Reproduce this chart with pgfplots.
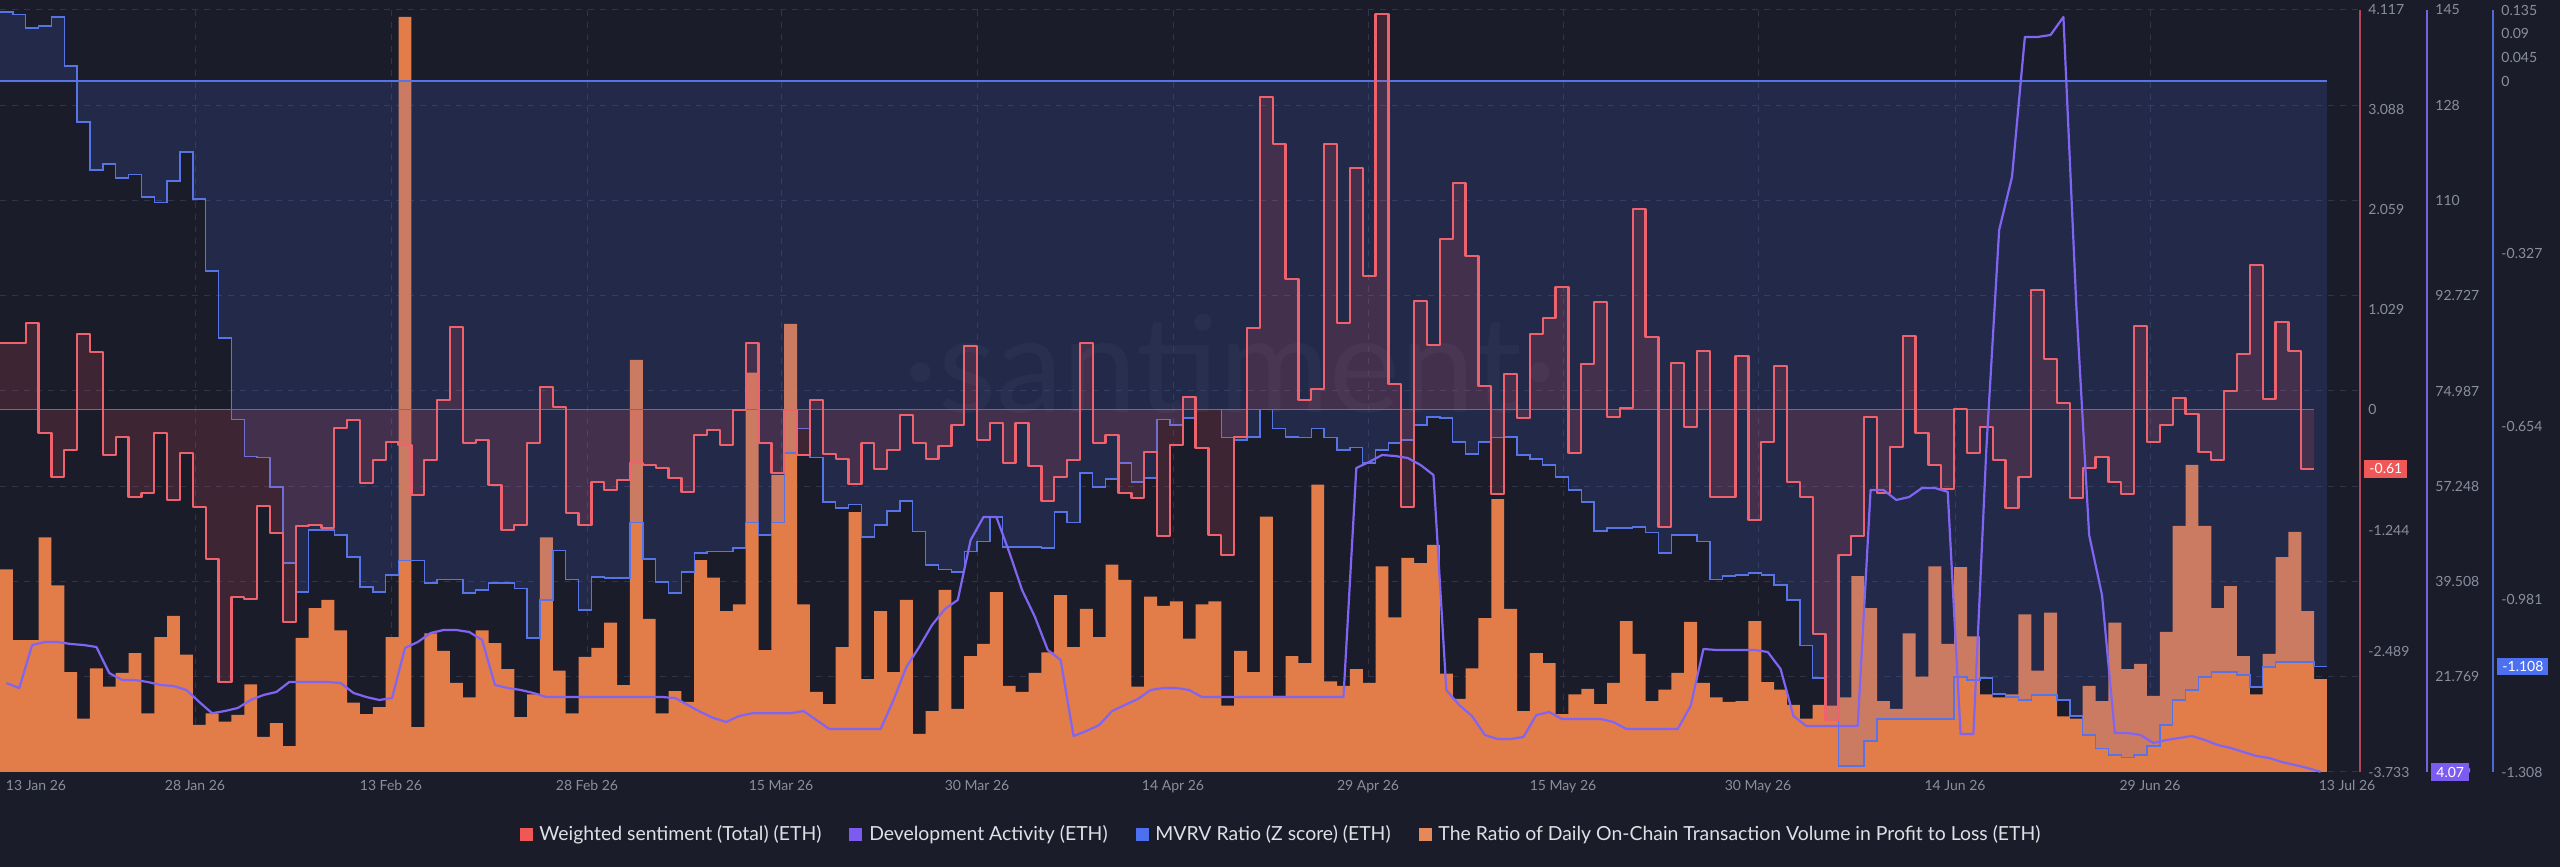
\documentclass[border=0pt]{standalone}
\usepackage{fontspec}
\setmainfont{Lato}
\usepackage{pgfplots}
\usepackage{pgfplotstable}
\pgfplotsset{compat=1.18}

\definecolor{bg}{RGB}{27,28,42}
\definecolor{gridc}{RGB}{48,52,72}
\definecolor{tickc}{RGB}{138,142,158}
\definecolor{legc}{RGB}{222,224,230}
\definecolor{barc}{RGB}{226,124,72}
\definecolor{mvrvc}{RGB}{86,116,230}
\definecolor{mvrvfill}{RGB}{80,120,255}
\definecolor{sentc}{RGB}{238,98,110}
\definecolor{sentfill}{RGB}{240,90,100}
\definecolor{devc}{RGB}{128,100,242}
\definecolor{redaxis}{RGB}{176,72,88}
\definecolor{purpaxis}{RGB}{118,98,222}
\definecolor{blueaxis}{RGB}{78,106,214}
\definecolor{redbox}{RGB}{240,88,88}
\definecolor{purpbox}{RGB}{124,92,240}
\definecolor{bluebox}{RGB}{76,112,240}

% Ratio of daily on-chain transaction volume in profit to loss (hidden scale)
\pgfplotstableread{
j v
0 2.66
1 1.73
2 1.73
3 3.08
4 2.45
5 1.31
6 0.70
7 1.36
8 1.12
9 1.30
10 1.56
11 0.77
12 1.77
13 2.05
14 1.54
15 0.62
16 0.77
17 0.66
18 0.75
19 1.15
20 0.46
21 0.64
22 0.34
23 1.76
24 2.15
25 2.26
26 1.86
27 0.91
28 0.76
29 0.85
30 1.77
31 9.91
32 0.59
33 1.82
34 1.59
35 1.17
36 0.98
37 1.86
38 1.69
39 1.35
40 0.72
41 1.02
42 3.08
43 1.33
44 0.77
45 1.51
46 1.63
47 1.96
48 1.14
49 5.41
50 2.01
51 0.77
52 1.06
53 0.92
54 2.78
55 2.55
56 2.11
57 2.20
58 5.24
59 1.60
60 3.90
61 5.88
62 2.20
63 1.05
64 0.89
65 1.64
66 3.41
67 1.22
68 2.11
69 1.31
70 2.26
71 0.50
72 0.80
73 2.39
74 0.83
75 1.52
76 1.68
77 2.36
78 1.13
79 1.05
80 1.30
81 1.57
82 2.32
83 1.64
84 2.14
85 1.77
86 2.72
87 2.52
88 1.12
89 2.30
90 2.18
91 2.24
92 1.75
93 2.20
94 2.24
95 0.87
96 1.59
97 1.31
98 3.35
99 1.00
100 1.52
101 1.43
102 3.77
103 1.19
104 1.13
105 1.35
106 1.17
107 2.70
108 2.03
109 2.81
110 2.74
111 2.98
112 1.29
113 0.96
114 1.36
115 2.02
116 3.58
117 2.14
118 0.80
119 1.56
120 1.43
121 0.76
122 1.02
123 1.09
124 0.89
125 1.17
126 1.98
127 1.55
128 0.93
129 1.08
130 1.30
131 1.97
132 1.17
133 0.98
134 0.92
135 0.93
136 1.98
137 1.18
138 1.08
139 0.88
140 0.70
141 0.88
142 0.87
143 0.98
144 2.57
145 2.15
146 0.93
147 0.83
148 1.82
149 1.25
150 2.70
151 1.68
152 2.69
153 1.78
154 1.02
155 0.98
156 1.02
157 2.07
158 1.33
159 2.09
160 0.73
161 0.70
162 1.13
163 0.93
164 1.96
165 1.35
166 1.42
167 1.00
168 1.84
169 3.23
170 4.03
171 3.23
172 2.15
173 2.44
174 1.52
175 1.02
176 1.55
177 2.82
178 3.15
179 2.11
180 1.22
}\ratio

% Weighted sentiment (Total)
\pgfplotstableread{
j v
0 0.686
1 0.686
2 0.892
3 -0.241
4 -0.694
5 -0.416
6 0.779
7 0.593
8 -0.468
9 -0.282
10 -0.900
11 -0.859
12 -0.241
13 -0.933
14 -0.447
15 -1.003
16 -1.539
17 -2.806
18 -1.931
19 -1.951
20 -0.993
21 -1.271
22 -2.188
23 -1.199
24 -1.189
25 -1.220
26 -0.190
27 -0.107
28 -0.756
29 -0.519
30 -0.334
31 -0.365
32 -0.880
33 -0.519
34 0.099
35 0.851
36 -0.344
37 -0.313
38 -0.777
39 -1.240
40 -1.189
41 -0.344
42 0.233
43 0.027
44 -1.065
45 -1.189
46 -0.746
47 -0.828
48 -0.725
49 -0.550
50 -0.571
51 -0.602
52 -0.705
53 -0.849
54 -0.262
55 -0.210
56 -0.365
57 -0.004
58 0.686
59 -0.344
60 -0.653
61 -0.004
62 -0.470
63 0.099
64 -0.457
65 -0.509
66 -0.766
67 -0.344
68 -0.612
69 -0.416
70 -0.056
71 -0.344
72 -0.509
73 -0.375
74 -0.159
75 0.655
76 -0.313
77 -0.138
78 -0.550
79 -0.138
80 -0.581
81 -0.942
82 -0.694
83 -0.519
84 0.686
85 -0.344
86 -0.262
87 -0.859
88 -0.911
89 -0.437
90 -1.302
91 -0.365
92 0.130
93 -0.396
94 -1.292
95 -1.498
96 -0.282
97 0.840
98 3.220
99 2.736
100 1.345
101 0.099
102 0.212
103 2.736
104 0.892
105 2.489
106 1.376
107 4.075
108 0.264
109 -1.003
110 1.118
111 0.665
112 1.757
113 2.334
114 1.582
115 0.243
116 -0.869
117 0.367
118 -0.087
119 0.779
120 0.944
121 1.262
122 -0.447
123 0.470
124 1.108
125 -0.076
126 0.016
127 2.066
128 0.748
129 -1.209
130 0.480
131 -0.179
132 0.604
133 -0.900
134 -0.900
135 0.552
136 -1.137
137 -0.334
138 0.449
139 -0.746
140 -0.900
141 -2.312
142 -3.198
143 -1.498
144 -1.302
145 -0.076
146 -0.859
147 -0.385
148 0.758
149 -0.241
150 -0.571
151 -0.818
152 0.006
153 -0.447
154 -0.179
155 -0.519
156 -1.014
157 -0.694
158 1.232
159 0.521
160 0.068
161 -0.911
162 -0.602
163 -0.488
164 -0.746
165 -0.869
166 0.861
167 -0.334
168 -0.159
169 0.120
170 -0.045
171 -0.437
172 -0.519
173 0.192
174 0.573
175 1.490
176 0.109
177 0.900
178 0.604
179 -0.612
180 -0.612
}\sent

% MVRV Ratio (Z score)
\pgfplotstableread{
j v
0 0.131
1 0.126
2 0.101
3 0.105
4 0.122
5 0.029
6 -0.077
7 -0.168
8 -0.157
9 -0.183
10 -0.177
11 -0.219
12 -0.230
13 -0.189
14 -0.134
15 -0.223
16 -0.359
17 -0.486
18 -0.641
19 -0.710
20 -0.713
21 -0.768
22 -0.912
23 -0.967
24 -0.850
25 -0.850
26 -0.859
27 -0.901
28 -0.958
29 -0.967
30 -0.935
31 -0.907
32 -0.907
33 -0.950
34 -0.944
35 -0.944
36 -0.969
37 -0.963
38 -0.950
39 -0.950
40 -0.960
41 -1.054
42 -0.982
43 -0.888
44 -0.944
45 -1.001
46 -0.939
47 -0.941
48 -0.941
49 -0.836
50 -0.905
51 -0.948
52 -0.969
53 -0.929
54 -0.893
55 -0.891
56 -0.891
57 -0.884
58 -0.836
59 -0.859
60 -0.836
61 -0.704
62 -0.658
63 -0.713
64 -0.797
65 -0.808
66 -0.802
67 -0.863
68 -0.840
69 -0.814
70 -0.795
71 -0.853
72 -0.916
73 -0.925
74 -0.929
75 -0.891
76 -0.871
77 -0.825
78 -0.882
79 -0.882
80 -0.882
81 -0.884
82 -0.816
83 -0.836
84 -0.742
85 -0.768
86 -0.753
87 -0.723
88 -0.759
89 -0.751
90 -0.641
91 -0.651
92 -0.638
93 -0.621
94 -0.621
95 -0.675
96 -0.679
97 -0.674
98 -0.621
99 -0.658
100 -0.674
101 -0.675
102 -0.657
103 -0.675
104 -0.698
105 -0.694
106 -0.723
107 -0.698
108 -0.685
109 -0.679
110 -0.651
111 -0.636
112 -0.638
113 -0.683
114 -0.706
115 -0.683
116 -0.675
117 -0.674
118 -0.708
119 -0.715
120 -0.727
121 -0.749
122 -0.774
123 -0.797
124 -0.852
125 -0.846
126 -0.846
127 -0.844
128 -0.855
129 -0.893
130 -0.859
131 -0.859
132 -0.872
133 -0.944
134 -0.937
135 -0.935
136 -0.931
137 -0.935
138 -0.954
139 -0.982
140 -1.069
141 -1.130
142 -1.209
143 -1.297
144 -1.297
145 -1.249
146 -1.208
147 -1.208
148 -1.208
149 -1.208
150 -1.208
151 -1.208
152 -1.128
153 -1.134
154 -1.130
155 -1.160
156 -1.166
157 -1.172
158 -1.162
159 -1.162
160 -1.172
161 -1.202
162 -1.238
163 -1.263
164 -1.276
165 -1.280
166 -1.276
167 -1.259
168 -1.219
169 -1.172
170 -1.153
171 -1.128
172 -1.119
173 -1.119
174 -1.124
175 -1.147
176 -1.109
177 -1.100
178 -1.100
179 -1.100
180 -1.108
181 -1.108
}\mvrv

% Development Activity
\pgfplotstableread{
j v
0 20.60
1 19.67
2 27.68
3 28.24
4 28.24
5 27.87
6 27.68
7 27.31
8 22.46
9 21.16
10 21.16
11 20.79
12 20.23
13 20.05
14 19.30
15 17.07
16 14.97
17 15.39
18 15.95
19 17.44
20 18.37
21 18.93
22 20.79
23 20.79
24 20.79
25 20.79
26 20.60
27 18.74
28 17.99
29 17.44
30 17.81
31 27.12
32 28.24
33 29.92
34 30.47
35 30.47
36 30.10
37 28.61
38 20.23
39 19.67
40 19.30
41 18.74
42 17.99
43 17.99
44 17.99
45 17.99
46 17.99
47 17.99
48 17.99
49 17.99
50 17.99
51 17.99
52 17.81
53 16.51
54 15.20
55 14.08
56 13.34
57 14.46
58 14.97
59 14.97
60 14.97
61 14.97
62 15.39
63 13.71
64 12.04
65 12.04
66 12.04
67 12.04
68 12.04
69 17.44
70 23.58
71 27.31
72 31.41
73 34.39
74 36.07
75 47.24
76 51.52
77 51.52
78 45.00
79 37.92
80 32.92
81 26.75
82 24.89
83 10.73
84 11.66
85 12.78
86 15.39
87 16.51
88 17.62
89 19.30
90 19.67
91 19.67
92 19.30
93 17.99
94 17.99
95 17.99
96 17.99
97 17.99
98 17.99
99 17.99
100 17.99
101 17.99
102 17.99
103 17.99
104 17.99
105 60.65
106 61.77
107 63.07
108 62.88
109 62.51
110 61.20
111 59.34
112 19.30
113 16.51
114 14.46
115 10.92
116 10.17
117 10.17
118 10.55
119 14.64
120 15.20
121 13.90
122 13.90
123 13.90
124 13.90
125 13.34
126 12.04
127 12.04
128 12.04
129 12.04
130 12.04
131 16.32
132 26.94
133 26.75
134 26.75
135 26.75
136 26.75
137 26.38
138 23.21
139 14.46
140 12.60
141 12.60
142 12.60
143 12.60
144 12.60
145 56.55
146 56.55
147 54.69
148 55.24
149 56.92
150 56.92
151 56.20
152 11.10
153 11.10
154 64.00
155 104.97
156 114.84
157 140.92
158 140.92
159 141.29
160 144.64
161 91.00
162 48.17
163 37.00
164 11.29
165 11.29
166 10.92
167 9.43
168 9.99
169 10.36
170 10.73
171 9.99
172 9.06
173 8.50
174 7.76
175 7.01
176 6.64
177 5.89
178 5.34
179 4.77
180 4.07
}\dev

\pgfplotsset{
  layer/.style={at={(0pt,47.5pt)}, anchor=south west, width=1180pt, height=381pt,
    scale only axis, xmin=0, xmax=183.57, enlargelimits=false,
    axis line style={draw=none}, major tick length=0pt,
    tick label style={font=\fontsize{7}{8}\selectfont, text=tickc}},
  rightaxis/.style={axis x line=none, axis y line*=right, xtick=\empty, clip=false,
    yticklabel style={anchor=west, inner sep=0pt, xshift=4pt}},
}
\tikzset{
  valbox/.style={anchor=west, text=white, inner xsep=2.5pt, inner ysep=1.8pt,
    font=\fontsize{7}{8}\selectfont},
}

\begin{document}
\begin{tikzpicture}
\useasboundingbox (0,0) rectangle (1280pt,433.5pt);
\fill[bg] (0,0) rectangle (1280pt,433.5pt);
\node[anchor=base, text=white, opacity=0.035, font=\fontsize{67}{67}\selectfont] at (615pt,227pt) {·santiment·};

% grid, date ticks and the Development Activity scale
\begin{axis}[layer, ymin=4.029, ymax=145.944,
  axis y line*=right, axis y line shift=33.5pt,
  y axis line style={draw=purpaxis, line width=0.8pt},
  yticklabel style={anchor=west, inner sep=0pt, xshift=4pt},
  ytick={145.944,128.205,110.466,92.727,74.987,57.248,39.508,21.769,4.029},
  yticklabels={145,128,110,92.727,74.987,57.248,39.508,21.769,4.029},
  xtick={15.168,30.414,45.660,60.750,75.995,91.241,106.409,121.578,136.746,152.069,167.237},
  xticklabels={28 Jan 26,13 Feb 26,28 Feb 26,15 Mar 26,30 Mar 26,14 Apr 26,29 Apr 26,15 May 26,30 May 26,14 Jun 26,29 Jun 26},
  extra x ticks={2.80,182.56}, extra x tick labels={13 Jan 26,13 Jul 26},
  extra x tick style={grid=none},
  xmajorgrids, ymajorgrids,
  grid style={gridc, dash pattern=on 3pt off 3pt, line width=0.5pt},
  xticklabel style={anchor=north, inner sep=0pt, yshift=-4pt},
]
\end{axis}

% bars
\begin{axis}[layer, hide axis, ybar, ymin=0, ymax=10]
\addplot[fill=barc, draw=none, bar width=1] table[x expr=\thisrow{j}+0.5, y=v] {\ratio};
\end{axis}

% MVRV
\begin{axis}[layer, rightaxis, ymin=-1.308, ymax=0.135,
  axis y line shift=66.5pt, y axis line style={draw=blueaxis, line width=0.8pt},
  ytick={0.135,0.09,0.045,0,-0.327,-0.654,-0.981,-1.308},
  yticklabels={0.135,0.09,0.045,0,-0.327,-0.654,-0.981,-1.308}]
\addplot[const plot, draw=none, fill=mvrvfill, fill opacity=0.15] table[x=j, y=v] {\mvrv} \closedcycle;
\addplot[mvrvc, line width=0.9pt] coordinates {(0,0) (181,0)};
\addplot[const plot, mvrvc, line width=0.7pt] table[x=j, y=v] {\mvrv};
\node[valbox, fill=bluebox] at ([xshift=68.5pt]axis cs:183.57,-1.108) {-1.108};
\end{axis}

% Weighted sentiment
\begin{axis}[layer, rightaxis, ymin=-3.733, ymax=4.117,
  y axis line style={draw=redaxis, line width=1pt},
  ytick={4.117,3.088,2.059,1.029,0,-1.244,-2.489,-3.733},
  yticklabels={4.117,3.088,2.059,1.029,0,-1.244,-2.489,-3.733}]
\addplot[const plot, draw=none, fill=sentfill, fill opacity=0.16] table[x=j, y=v] {\sent} \closedcycle;
\addplot[sentc!75!bg, line width=0.8pt] coordinates {(0,0) (180,0)};
\addplot[const plot, sentc, line width=1.15pt, line join=round] table[x=j, y=v] {\sent};
\node[valbox, fill=redbox] at ([xshift=2pt]axis cs:183.57,-0.61) {-0.61};
\end{axis}

% Development activity line + legend
\begin{axis}[layer, hide axis, clip=false, ymin=4.029, ymax=145.944,
  legend columns=4, legend cell align=left,
  legend style={at={(0.5424,-0.0814)}, anchor=center, draw=none, fill=none,
    text=legc, font=\fontsize{9.7}{11.6}\selectfont, inner sep=0pt,
    nodes={inner sep=0pt},
    /tikz/every odd column/.append style={column sep=3.5pt},
    /tikz/every even column/.append style={column sep=14pt}},
]
\addplot[devc, line width=1.1pt, line join=round, forget plot] table[x expr=\thisrow{j}+0.5, y=v] {\dev};
\node[valbox, fill=purpbox] at ([xshift=35.5pt]axis cs:183.57,4.029) {4.07};
\addlegendimage{legend image code/.code={\fill[redbox] (0pt,-3pt) rectangle (6pt,3pt);}}
\addlegendentry{Weighted sentiment (Total) (ETH)}
\addlegendimage{legend image code/.code={\fill[purpbox] (0pt,-3pt) rectangle (6pt,3pt);}}
\addlegendentry{Development Activity (ETH)}
\addlegendimage{legend image code/.code={\fill[bluebox] (0pt,-3pt) rectangle (6pt,3pt);}}
\addlegendentry{MVRV Ratio (Z score) (ETH)}
\addlegendimage{legend image code/.code={\fill[barc!90!white] (0pt,-3pt) rectangle (6pt,3pt);}}
\addlegendentry{The Ratio of Daily On-Chain Transaction Volume in Profit to Loss (ETH)}
\end{axis}
\end{tikzpicture}
\end{document}
